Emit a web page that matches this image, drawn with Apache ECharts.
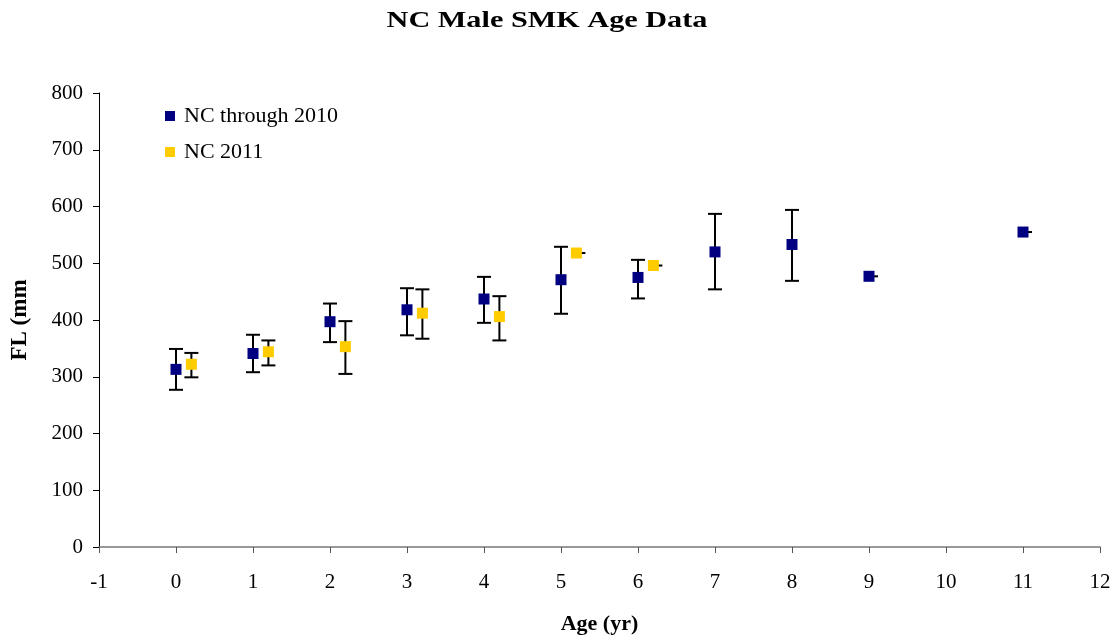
<!DOCTYPE html>
<html><head><meta charset="utf-8">
<script src="https://cdn.jsdelivr.net/npm/echarts@6/dist/echarts.min.js"></script>
<style>html,body{margin:0;padding:0;background:#fff}#c{width:1117px;height:639px}</style>
</head><body><div id="c"></div>
<script>
const ages2010 = [0, 1, 2, 3, 4, 5, 6, 7, 8, 9, 11];
const mean2010 = [313, 341, 397, 418, 437, 471, 475, 520, 533, 477, 555];
const low2010  = [277, 308, 361, 373, 395, 411, 438, 454, 469, 477, 555];
const high2010 = [349, 374, 429, 456, 476, 529, 506, 587, 594, 477, 555];
const ages2011 = [0.2, 1.2, 2.2, 3.2, 4.2, 5.2, 6.2];
const mean2011 = [322, 344, 353, 412, 406, 518, 496];
const low2011  = [299, 320, 305, 367, 364, 518, 496];
const high2011 = [342, 364, 398, 454, 442, 518, 496];
const seriesNames = ['NC through 2010', 'NC 2011'];
const titleText = 'NC Male SMK Age Data';

const serif = '"Liberation Serif", "DejaVu Serif", serif';
function errData(a, l, h) { return a.map((x, i) => [x, l[i], h[i]]); }
function errItem(params, api) {
  const x = api.value(0);
  const lo = api.coord([x, api.value(1)]);
  const hi = api.coord([x, api.value(2)]);
  const st = { stroke: '#000', lineWidth: 2 };
  if (Math.abs(hi[1] - lo[1]) < 0.5) {
    return { type: 'line', shape: { x1: lo[0], y1: lo[1], x2: lo[0] + 9, y2: lo[1] }, style: st };
  }
  const w = 7;
  return { type: 'group', children: [
    { type: 'line', shape: { x1: lo[0], y1: lo[1], x2: hi[0], y2: hi[1] }, style: st },
    { type: 'line', shape: { x1: lo[0] - w, y1: lo[1], x2: lo[0] + w, y2: lo[1] }, style: st },
    { type: 'line', shape: { x1: hi[0] - w, y1: hi[1], x2: hi[0] + w, y2: hi[1] }, style: st }
  ]};
}
const chart = echarts.init(document.getElementById('c'), null, { renderer: 'canvas' });
chart.setOption({
  animation: false,
  backgroundColor: '#fff',
  graphic: [{ type: 'text', x: 547, y: 21, scaleX: 1.26,
    style: { text: titleText, font: 'bold 24px ' + serif, fill: '#000',
      align: 'center', verticalAlign: 'middle' } }],
  legend: { orient: 'vertical', left: 165, top: 105, padding: 0, itemWidth: 10, itemHeight: 10, itemGap: 14,
    icon: 'rect', textStyle: { fontFamily: serif, fontSize: 22, color: '#000', padding: [0, 0, 0, 4] },
    data: seriesNames },
  grid: { left: 99, right: 17, top: 93, bottom: 92, outerBoundsMode: 'none', containLabel: false },
  xAxis: { type: 'value', min: -1, max: 12, interval: 1,
    name: 'Age (yr)', nameLocation: 'middle', nameGap: 66,
    nameTextStyle: { fontFamily: serif, fontSize: 22, fontWeight: 'bold', color: '#000' },
    axisLine: { onZero: false, lineStyle: { color: '#777', width: 1.5 } },
    axisTick: { show: true, length: 6, lineStyle: { color: '#555' } },
    axisLabel: { fontFamily: serif, fontSize: 21, color: '#000', margin: 25 },
    splitLine: { show: false } },
  yAxis: { type: 'value', min: 0, max: 800, interval: 100,
    name: 'FL (mm', nameLocation: 'middle', nameGap: 67,
    nameTextStyle: { fontFamily: serif, fontSize: 23, fontWeight: 'bold', color: '#000' },
    axisLine: { show: true, onZero: false, lineStyle: { color: '#000', width: 1 } },
    axisTick: { show: true, length: 6, lineStyle: { color: '#000' } },
    axisLabel: { fontFamily: serif, fontSize: 21, color: '#000', margin: 16 },
    splitLine: { show: false } },
  series: [
    { type: 'custom', name: 'err2010', renderItem: errItem, data: errData(ages2010, low2010, high2010), z: 1, silent: true },
    { type: 'custom', name: 'err2011', renderItem: errItem, data: errData(ages2011, low2011, high2011), z: 1, silent: true },
    { type: 'scatter', name: seriesNames[0], symbol: 'rect', symbolSize: 11, z: 3,
      itemStyle: { color: '#000080', opacity: 1 }, data: ages2010.map((x, i) => [x, mean2010[i]]) },
    { type: 'scatter', name: seriesNames[1], symbol: 'rect', symbolSize: 11, z: 3,
      itemStyle: { color: '#FFCC00', opacity: 1 }, data: ages2011.map((x, i) => [x, mean2011[i]]) }
  ]
});
</script></body></html>
